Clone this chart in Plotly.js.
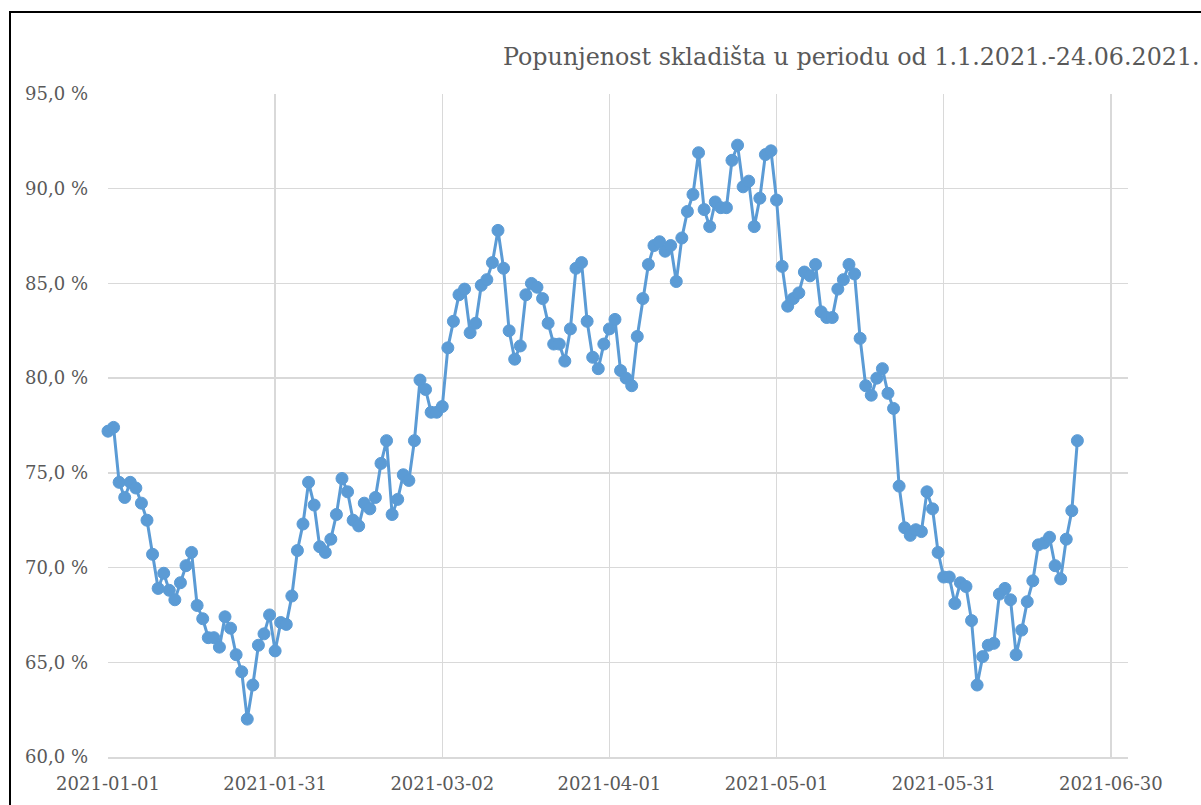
<!DOCTYPE html>
<html>
<head>
<meta charset="utf-8">
<script src="https://cdn.plot.ly/plotly-3.0.1.min.js"></script>
<style>
  html, body { margin: 0; padding: 0; background: #fff; overflow: hidden; }
  #chart { width: 1201px; height: 805px; }
  #frame { position: absolute; left: 9px; top: 11px; width: 1400px; height: 1000px;
           border: 2px solid #000; pointer-events: none; }
</style>
</head>
<body>
<div id="chart"></div>
<div id="frame"></div>
<script>
// Dates (one per day)
const janDates = ["2021-01-01","2021-01-02","2021-01-03","2021-01-04","2021-01-05","2021-01-06","2021-01-07","2021-01-08","2021-01-09","2021-01-10","2021-01-11","2021-01-12","2021-01-13","2021-01-14","2021-01-15","2021-01-16","2021-01-17","2021-01-18","2021-01-19","2021-01-20","2021-01-21","2021-01-22","2021-01-23","2021-01-24","2021-01-25","2021-01-26","2021-01-27","2021-01-28","2021-01-29","2021-01-30","2021-01-31"];
const febDates = ["2021-02-01","2021-02-02","2021-02-03","2021-02-04","2021-02-05","2021-02-06","2021-02-07","2021-02-08","2021-02-09","2021-02-10","2021-02-11","2021-02-12","2021-02-13","2021-02-14","2021-02-15","2021-02-16","2021-02-17","2021-02-18","2021-02-19","2021-02-20","2021-02-21","2021-02-22","2021-02-23","2021-02-24","2021-02-25","2021-02-26","2021-02-27","2021-02-28"];
const marDates = ["2021-03-01","2021-03-02","2021-03-03","2021-03-04","2021-03-05","2021-03-06","2021-03-07","2021-03-08","2021-03-09","2021-03-10","2021-03-11","2021-03-12","2021-03-13","2021-03-14","2021-03-15","2021-03-16","2021-03-17","2021-03-18","2021-03-19","2021-03-20","2021-03-21","2021-03-22","2021-03-23","2021-03-24","2021-03-25","2021-03-26","2021-03-27","2021-03-28","2021-03-29","2021-03-30","2021-03-31"];
const aprDates = ["2021-04-01","2021-04-02","2021-04-03","2021-04-04","2021-04-05","2021-04-06","2021-04-07","2021-04-08","2021-04-09","2021-04-10","2021-04-11","2021-04-12","2021-04-13","2021-04-14","2021-04-15","2021-04-16","2021-04-17","2021-04-18","2021-04-19","2021-04-20","2021-04-21","2021-04-22","2021-04-23","2021-04-24","2021-04-25","2021-04-26","2021-04-27","2021-04-28","2021-04-29","2021-04-30"];
const mayDates = ["2021-05-01","2021-05-02","2021-05-03","2021-05-04","2021-05-05","2021-05-06","2021-05-07","2021-05-08","2021-05-09","2021-05-10","2021-05-11","2021-05-12","2021-05-13","2021-05-14","2021-05-15","2021-05-16","2021-05-17","2021-05-18","2021-05-19","2021-05-20","2021-05-21","2021-05-22","2021-05-23","2021-05-24","2021-05-25","2021-05-26","2021-05-27","2021-05-28","2021-05-29","2021-05-30","2021-05-31"];
const junDates = ["2021-06-01","2021-06-02","2021-06-03","2021-06-04","2021-06-05","2021-06-06","2021-06-07","2021-06-08","2021-06-09","2021-06-10","2021-06-11","2021-06-12","2021-06-13","2021-06-14","2021-06-15","2021-06-16","2021-06-17","2021-06-18","2021-06-19","2021-06-20","2021-06-21","2021-06-22","2021-06-23","2021-06-24"];

// Storage fill level (%)
const janValues = [77.2, 77.4, 74.5, 73.7, 74.5, 74.2, 73.4, 72.5, 70.7, 68.9, 69.7, 68.8, 68.3, 69.2, 70.1, 70.8, 68.0, 67.3, 66.3, 66.3, 65.8, 67.4, 66.8, 65.4, 64.5, 62.0, 63.8, 65.9, 66.5, 67.5, 65.6];
const febValues = [67.1, 67.0, 68.5, 70.9, 72.3, 74.5, 73.3, 71.1, 70.8, 71.5, 72.8, 74.7, 74.0, 72.5, 72.2, 73.4, 73.1, 73.7, 75.5, 76.7, 72.8, 73.6, 74.9, 74.6, 76.7, 79.9, 79.4, 78.2];
const marValues = [78.2, 78.5, 81.6, 83.0, 84.4, 84.7, 82.4, 82.9, 84.9, 85.2, 86.1, 87.8, 85.8, 82.5, 81.0, 81.7, 84.4, 85.0, 84.8, 84.2, 82.9, 81.8, 81.8, 80.9, 82.6, 85.8, 86.1, 83.0, 81.1, 80.5, 81.8];
const aprValues = [82.6, 83.1, 80.4, 80.0, 79.6, 82.2, 84.2, 86.0, 87.0, 87.2, 86.7, 87.0, 85.1, 87.4, 88.8, 89.7, 91.9, 88.9, 88.0, 89.3, 89.0, 89.0, 91.5, 92.3, 90.1, 90.4, 88.0, 89.5, 91.8, 92.0];
const mayValues = [89.4, 85.9, 83.8, 84.2, 84.5, 85.6, 85.4, 86.0, 83.5, 83.2, 83.2, 84.7, 85.2, 86.0, 85.5, 82.1, 79.6, 79.1, 80.0, 80.5, 79.2, 78.4, 74.3, 72.1, 71.7, 72.0, 71.9, 74.0, 73.1, 70.8, 69.5];
const junValues = [69.5, 68.1, 69.2, 69.0, 67.2, 63.8, 65.3, 65.9, 66.0, 68.6, 68.9, 68.3, 65.4, 66.7, 68.2, 69.3, 71.2, 71.3, 71.6, 70.1, 69.4, 71.5, 73.0, 76.7];

const xTickVals = ["2021-01-01","2021-01-31","2021-03-02","2021-04-01","2021-05-01","2021-05-31","2021-06-30"];
const titleText = "Popunjenost skladišta u periodu od 1.1.2021.-24.06.2021.";

const dates = [].concat(janDates, febDates, marDates, aprDates, mayDates, junDates);
const values = [].concat(janValues, febValues, marValues, aprValues, mayValues, junValues);

const labelFont = { family: "DejaVu Serif, Liberation Serif, serif", size: 18, color: "#595959" };

const trace = {
  x: dates, y: values, type: "scatter", mode: "lines+markers",
  line: { color: "#5b9bd5", width: 3 },
  marker: { color: "#5b9bd5", size: 12, line: { color: "#5b9bd5", width: 1 } },
  cliponaxis: false,
  hoverinfo: "skip"
};

const layout = {
  width: 1201, height: 805,
  paper_bgcolor: "#ffffff", plot_bgcolor: "#ffffff",
  margin: { l: 108, r: 73, t: 94, b: 48 },
  showlegend: false,
  hovermode: false,
  separators: ",.",
  title: {
    text: titleText,
    font: { family: "DejaVu Serif, Liberation Serif, serif", size: 23.8, color: "#595959" },
    xref: "container", x: 503 / 1201, xanchor: "left",
    yref: "container", y: 1 - 57 / 805, yanchor: "middle"
  },
  xaxis: {
    type: "date",
    range: ["2021-01-01", "2021-07-03 02:00"],
    tickmode: "array", tickvals: xTickVals, ticktext: xTickVals,
    showgrid: true, gridcolor: "#d9d9d9", gridwidth: 1.5,
    showline: true, linecolor: "#d9d9d9", linewidth: 1.5,
    zeroline: false, ticks: "",
    ticklabelstandoff: 10,
    tickfont: labelFont
  },
  yaxis: {
    range: [60, 95], dtick: 5, tick0: 60,
    tickformat: ".1f", ticksuffix: " %",
    showgrid: true, gridcolor: "#d9d9d9", gridwidth: 1.5,
    showline: false, zeroline: false, ticks: "",
    ticklabelstandoff: 19,
    tickfont: labelFont
  }
};

Plotly.newPlot("chart", [trace], layout, { displayModeBar: false, staticPlot: true });
</script>
</body>
</html>
